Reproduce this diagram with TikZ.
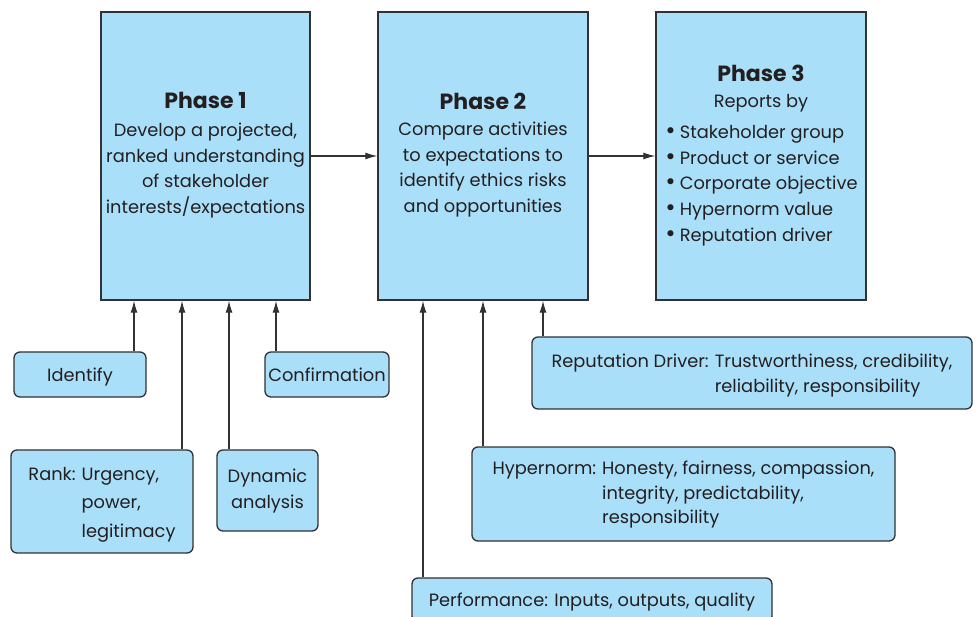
\documentclass[tikz,border=0pt]{standalone}
\usepackage{fontspec}
\setmainfont{Poppins}
\newfontfamily\dejavu{DejaVu Sans}
\usetikzlibrary{arrows.meta}
\definecolor{boxblue}{RGB}{170,223,249}
\definecolor{edge}{RGB}{50,50,52}
\definecolor{ink}{RGB}{35,31,32}
\newcommand{\bodyfont}{\fontsize{17.8}{25.7}\selectfont}
\newcommand{\headfont}{\fontsize{22}{25.7}\selectfont\bfseries}
\newcommand{\bul}{{\dejavu\fontsize{21}{25.7}\selectfont •}\hspace{3pt}}
\begin{document}
\begin{tikzpicture}[x=1pt,y=-1pt,
  phase/.style={draw=edge, fill=boxblue, line width=1.3pt, inner sep=0pt, text=ink, font=\bodyfont},
  tag/.style={phase, rounded corners=6pt},
  arr/.style={draw=edge, line width=1.2pt, -{Latex[length=12pt,width=7pt]}}]
\clip (0,0) rectangle (977,617);
\fill[white] (0,0) rectangle (977,617);
% phases
\node[phase, minimum width=209pt, minimum height=288pt] (p1) at (205.5,156)
  {\begin{tabular}{@{}c@{}}{\headfont Phase 1}\\[2pt] Develop a projected,\\ ranked understanding\\ of stakeholder\\ interests/expectations\end{tabular}};
\node[phase, minimum width=210pt, minimum height=288pt] (p2) at (483,156)
  {\begin{tabular}{@{}c@{}}{\headfont Phase 2}\\ Compare activities\\ to expectations to\\ identify ethics risks\\ and opportunities\end{tabular}};
\node[phase, minimum width=210pt, minimum height=288pt] (p3) at (761,156)
  {\begin{tabular}{@{}c@{}}{\headfont Phase 3}\\[1pt] Reports by\\[5pt]
   \begin{tabular}[t]{@{}l@{}}\bul Stakeholder group\\ \bul Product or service\\ \bul Corporate objective\\ \bul Hypernorm value\\ \bul Reputation driver\end{tabular}\end{tabular}};
% tags
\node[tag, minimum width=132pt, minimum height=45pt] (ident) at (80,374.5) {\raisebox{-2pt}[\height][\depth]{Identify}};
\node[tag, minimum width=124pt, minimum height=45pt] (conf) at (327,374.5) {Confirmation};
\node[tag, minimum width=182pt, minimum height=103pt, text height=7pt, text depth=50pt] (rank) at (102,501.5)
  {\begin{tabular}[t]{@{}l@{\hspace{6pt}}l@{}}Rank: & Urgency,\\[3pt] & power,\\[3pt] & legitimacy\end{tabular}};
\node[tag, minimum width=101pt, minimum height=81pt] (dyn) at (267.5,490.5)
  {\begin{tabular}{@{}c@{}}Dynamic\\ analysis\end{tabular}};
\node[tag, minimum width=440pt, minimum height=72pt] (rep) at (752,373)
  {\raisebox{-2pt}[\height][\depth]{\begin{tabular}{@{}l@{\hspace{6pt}}l@{}}Reputation Driver: & Trustworthiness, credibility,\\[-1pt] & reliability, responsibility\end{tabular}}};
\node[tag, minimum width=423pt, minimum height=94pt] (hyp) at (683.5,494)
  {\begin{tabular}{@{}l@{\hspace{6pt}}l@{}}Hypernorm: & Honesty, fairness, compassion,\\[-1pt] & integrity, predictability,\\[-1pt] & responsibility\end{tabular}};
\node[tag, minimum width=360pt, minimum height=44pt] (perf) at (592,600)
  {\raisebox{-2pt}[\height][\depth]{Performance: Inputs, outputs, quality}};
% connector columns
\coordinate (c1) at (134,0);
\coordinate (c2) at (182,0);
\coordinate (c3) at (229,0);
\coordinate (c4) at (276,0);
\coordinate (c5) at (423,0);
\coordinate (c6) at (483,0);
\coordinate (c7) at (543,0);
% arrows
\draw[arr] (p1) -- (p2);
\draw[arr] (p2) -- (p3);
\draw[arr] (ident.north -| c1) -- (p1.south -| c1);
\draw[arr] (rank.north -| c2) -- (p1.south -| c2);
\draw[arr] (dyn.north -| c3) -- (p1.south -| c3);
\draw[arr] (conf.north -| c4) -- (p1.south -| c4);
\draw[arr] (perf.north -| c5) -- (p2.south -| c5);
\draw[arr] (hyp.north -| c6) -- (p2.south -| c6);
\draw[arr] (rep.north -| c7) -- (p2.south -| c7);
\end{tikzpicture}
\end{document}
